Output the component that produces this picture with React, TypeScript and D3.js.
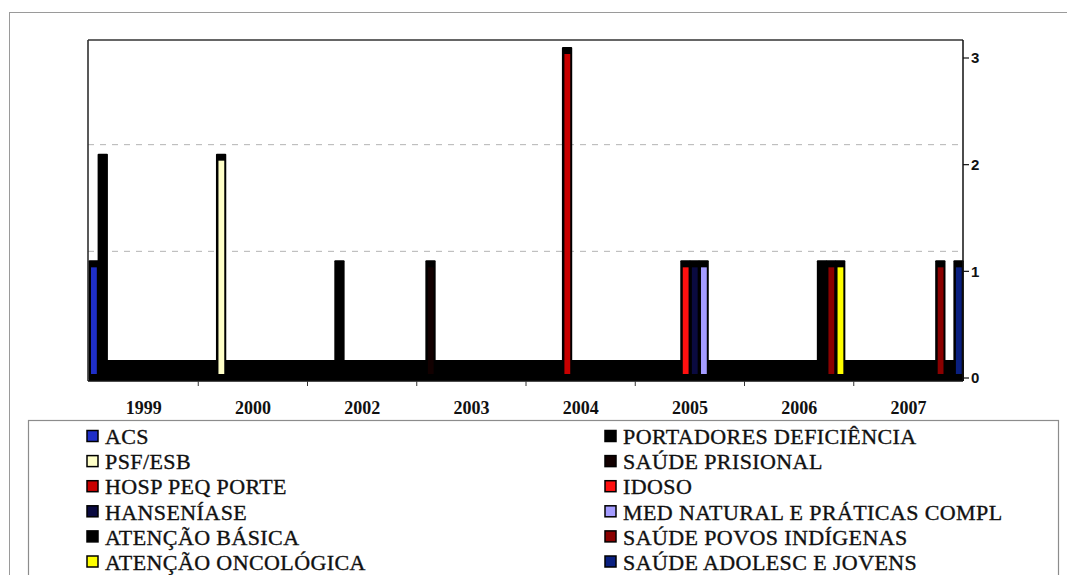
import React from 'react';
import * as d3 from 'd3';

// anos no eixo x (cada ano dividido em 12 meses)
const years = ['1999', '2000', '2002', '2003', '2004', '2005', '2006', '2007'];
const monthsPerYear = 12;

const programs = [
  'ACS',
  'PSF/ESB',
  'HOSP PEQ PORTE',
  'HANSENÍASE',
  'ATENÇÃO BÁSICA',
  'ATENÇÃO ONCOLÓGICA',
  'PORTADORES DEFICIÊNCIA',
  'SAÚDE PRISIONAL',
  'IDOSO',
  'MED NATURAL E PRÁTICAS COMPL',
  'SAÚDE POVOS INDÍGENAS',
  'SAÚDE ADOLESC E JOVENS',
];

const programColors = [
  '#1f2fc8',
  '#ffffc8',
  '#c80000',
  '#0a0a40',
  '#000000',
  '#ffff00',
  '#000000',
  '#120000',
  '#ff1010',
  '#a49cff',
  '#8a0000',
  '#0a2080',
];

// adesões: programa, ano, mês (0-11), quantidade
const adoptionProgram = [
  'ACS', 'ATENÇÃO BÁSICA', 'PSF/ESB', 'PORTADORES DEFICIÊNCIA', 'SAÚDE PRISIONAL',
  'HOSP PEQ PORTE', 'IDOSO', 'HANSENÍASE', 'MED NATURAL E PRÁTICAS COMPL',
  'ATENÇÃO BÁSICA', 'SAÚDE POVOS INDÍGENAS', 'ATENÇÃO ONCOLÓGICA',
  'SAÚDE POVOS INDÍGENAS', 'SAÚDE ADOLESC E JOVENS',
];
const adoptionYear = [
  '1999', '1999', '2000', '2002', '2003',
  '2004', '2005', '2005', '2005',
  '2006', '2006', '2006',
  '2007', '2007',
];
const adoptionMonth = [0, 1, 2, 3, 1, 4, 5, 6, 7, 8, 9, 10, 9, 11];
const adoptionValue = [1, 2, 2, 1, 1, 3, 1, 1, 1, 1, 1, 1, 1, 1];

const yTicks = [0, 1, 2, 3];

const W = 1067;
const H = 575;
const plotLeft = 88;
const plotRight = 963;

const App: React.FC = () => {
  const monthKeys = years.flatMap(y => d3.range(monthsPerYear).map(m => `${y}-${m}`));

  const x = d3.scaleBand<string>().domain(monthKeys).range([plotLeft + 1, plotRight]).padding(0);
  const xYear = d3.scaleBand<string>().domain(years).range([plotLeft + 1, plotRight]).padding(0);
  const y = d3.scaleLinear().domain([0, 3]).range([378, 58]);
  const color = d3.scaleOrdinal<string, string>().domain(programs).range(programColors);

  const bw = x.bandwidth();
  const base = y(0);
  const top = y(3) - 18;
  const bottom = base + 3;

  const bars = adoptionProgram.map((p, i) => ({
    program: p,
    key: `${adoptionYear[i]}-${adoptionMonth[i]}`,
    value: adoptionValue[i],
  }));

  const legendRows = 6;

  return (
    <svg width={W} height={H} style={{ position: 'absolute', left: 0, top: 0, background: '#fff' }}>
      {/* moldura externa */}
      <rect x={9.5} y={12.5} width={1100} height={700} fill="none" stroke="#9a9a9a" strokeWidth={1} />

      {/* linhas de grade */}
      {[1, 2].map(v => (
        <line key={v} x1={plotLeft} x2={plotRight} y1={y(v) - 20} y2={y(v) - 20}
          stroke="#b4b4b4" strokeWidth={1} strokeDasharray="6,6" />
      ))}

      {/* faixa de valores zero */}
      <g shapeRendering="crispEdges">
        {monthKeys.map(k => (
          <rect key={k} x={x(k)!} y={base - 18} width={bw + 1} height={21} fill="#000" />
        ))}
      </g>

      {/* barras */}
      {bars.map((b, i) => {
        const bx = x(b.key)!;
        const ty = y(b.value) - 11;
        return (
          <g key={i}>
            <rect x={bx - 0.5} y={ty} width={bw + 1.2} height={bottom - 1 - ty} fill="#000" rx={1} />
            <rect x={bx + 2} y={ty + 7} width={bw - 3.3} height={base - 4 - (ty + 7)} fill={color(b.program)} />
          </g>
        );
      })}

      {/* moldura do gráfico */}
      <line x1={plotLeft} x2={plotLeft} y1={top} y2={bottom} stroke="#222" strokeWidth={1.5} />
      <line x1={plotLeft} x2={plotRight} y1={top} y2={top} stroke="#333" strokeWidth={1.5} />
      <line x1={plotRight} x2={plotRight} y1={top} y2={bottom} stroke="#111" strokeWidth={1.5} />
      <line x1={plotLeft} x2={plotRight} y1={bottom} y2={bottom} stroke="#111" strokeWidth={1.5} />

      {/* eixo x */}
      {years.map((yr, i) => (
        <g key={yr}>
          {i > 0 && (
            <line x1={xYear(yr)!} x2={xYear(yr)!} y1={bottom} y2={bottom + 5} stroke="#333" strokeWidth={1} />
          )}
          <text x={xYear(yr)! + xYear.bandwidth() / 2} y={414} textAnchor="middle"
            fontFamily="'Liberation Serif', 'Times New Roman', serif" fontWeight="bold" fontSize={18} fill="#111">
            {yr}
          </text>
        </g>
      ))}

      {/* eixo y à direita */}
      {yTicks.map(v => (
        <g key={v}>
          <line x1={plotRight} x2={plotRight + 6} y1={y(v)} y2={y(v)} stroke="#111" strokeWidth={1.2} />
          <text x={plotRight + 8} y={y(v)} dy="0.36em" fontFamily="'Liberation Sans', Arial, sans-serif"
            fontWeight="bold" fontSize={15} fill="#111">
            {v}
          </text>
        </g>
      ))}

      {/* legenda */}
      <rect x={28.5} y={420.5} width={1030} height={200} fill="none" stroke="#8c8c8c" strokeWidth={1.2} />
      {programs.map((p, i) => {
        const col = Math.floor(i / legendRows);
        const row = i % legendRows;
        const lx = col === 0 ? 87 : 605;
        const cy = 436.5 + row * 25.1;
        return (
          <g key={p}>
            <rect x={lx} y={cy - 6} width={11} height={11} fill={color(p)} stroke="#000" strokeWidth={1.5} />
            <text x={lx + 18} y={cy} dy="0.35em" fontFamily="'Liberation Serif', 'Times New Roman', serif"
              fontSize={22} letterSpacing={0.4} fill="#111" stroke="#111" strokeWidth={0.35}>
              {p}
            </text>
          </g>
        );
      })}
    </svg>
  );
};

export default App;
